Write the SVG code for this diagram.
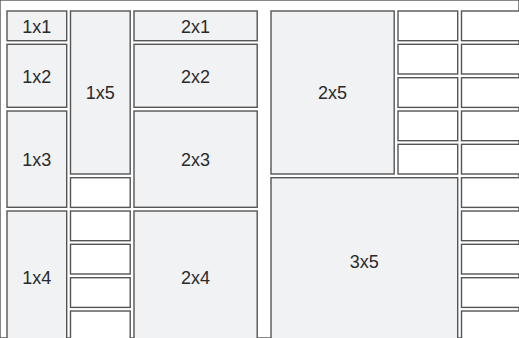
<svg xmlns="http://www.w3.org/2000/svg" width="519" height="338" viewBox="0 0 519 338">
<style>
rect{stroke:#555;stroke-width:1.4}
.f{fill:#f1f2f4}
.e{fill:#ffffff}
text{font-family:"Liberation Sans",Arial,sans-serif;font-size:18px;fill:#2a2a2a;text-anchor:middle}
</style>
<rect width="519" height="338" fill="#fff" stroke="none"/>
<g id="n1x1"><rect class="f" x="7" y="11" width="59.7" height="29.7"/><text x="36.8" y="32.6">1x1</text></g>
<g id="n1x2"><rect class="f" x="7" y="44.3" width="59.7" height="63"/><text x="36.8" y="82.5">1x2</text></g>
<g id="n1x3"><rect class="f" x="7" y="111" width="59.7" height="96.3"/><text x="36.8" y="165.8">1x3</text></g>
<g id="n1x4"><rect class="f" x="7" y="211" width="59.7" height="133"/><text x="36.8" y="284">1x4</text></g>
<g id="n1x5"><rect class="f" x="70.5" y="11" width="59.7" height="163"/><text x="100.3" y="99">1x5</text></g>
<g id="e1">
<rect class="e" x="70.5" y="177.7" width="59.7" height="29.7"/>
<rect class="e" x="70.5" y="211" width="59.7" height="29.7"/>
<rect class="e" x="70.5" y="244.3" width="59.7" height="29.7"/>
<rect class="e" x="70.5" y="277.7" width="59.7" height="29.7"/>
<rect class="e" x="70.5" y="311" width="59.7" height="29.7"/>
</g>
<g id="n2x1"><rect class="f" x="134" y="11" width="123.2" height="29.7"/><text x="195.6" y="32.6">2x1</text></g>
<g id="n2x2"><rect class="f" x="134" y="44.3" width="123.2" height="63"/><text x="195.6" y="82.5">2x2</text></g>
<g id="n2x3"><rect class="f" x="134" y="111" width="123.2" height="96.3"/><text x="195.6" y="165.8">2x3</text></g>
<g id="n2x4"><rect class="f" x="134" y="211" width="123.2" height="133"/><text x="195.6" y="284">2x4</text></g>
<g id="n2x5"><rect class="f" x="271" y="11" width="123.2" height="163"/><text x="332.6" y="99">2x5</text></g>
<g id="n3x5"><rect class="f" x="271" y="177.7" width="186.7" height="166"/><text x="364.3" y="267.5">3x5</text></g>
<g id="e6">
<rect class="e" x="398" y="11" width="59.7" height="29.7"/>
<rect class="e" x="398" y="44.3" width="59.7" height="29.7"/>
<rect class="e" x="398" y="77.7" width="59.7" height="29.7"/>
<rect class="e" x="398" y="111" width="59.7" height="29.7"/>
<rect class="e" x="398" y="144.3" width="59.7" height="29.7"/>
</g>
<g id="e7">
<rect class="e" x="461.5" y="11" width="59.7" height="29.7"/>
<rect class="e" x="461.5" y="44.3" width="59.7" height="29.7"/>
<rect class="e" x="461.5" y="77.7" width="59.7" height="29.7"/>
<rect class="e" x="461.5" y="111" width="59.7" height="29.7"/>
<rect class="e" x="461.5" y="144.3" width="59.7" height="29.7"/>
<rect class="e" x="461.5" y="177.7" width="59.7" height="29.7"/>
<rect class="e" x="461.5" y="211" width="59.7" height="29.7"/>
<rect class="e" x="461.5" y="244.3" width="59.7" height="29.7"/>
<rect class="e" x="461.5" y="277.7" width="59.7" height="29.7"/>
<rect class="e" x="461.5" y="311" width="59.7" height="29.7"/>
</g>
<g id="connectors"/>
</svg>
